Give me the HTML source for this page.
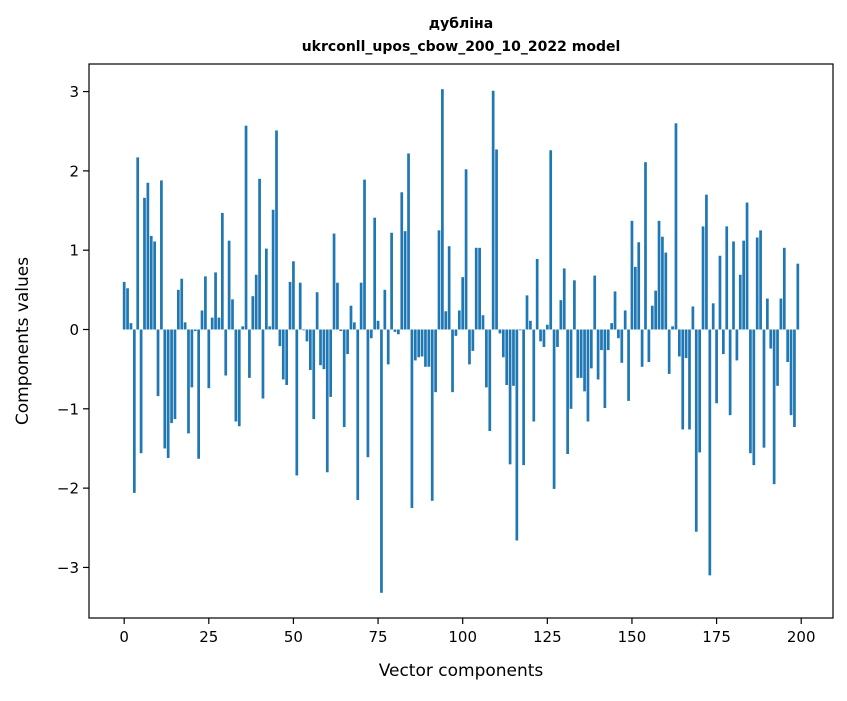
<!DOCTYPE html>
<html><head><meta charset="utf-8"><style>
body{margin:0;background:#fff;}
svg text{font-family:"DejaVu Sans","Liberation Sans",sans-serif;fill:#000;}
</style></head><body>
<svg id="chart" width="847" height="696" xmlns="http://www.w3.org/2000/svg">
<rect width="847" height="696" fill="#fff"/>
<text x="461" y="28" text-anchor="middle" font-size="14" font-weight="bold">дубліна</text>
<text x="461" y="51" text-anchor="middle" font-size="14" font-weight="bold">ukrconll_upos_cbow_200_10_2022 model</text>
<g id="bars"></g>
<g id="xticks"></g>
<g id="yticks"></g>
<rect x="89" y="64" width="744" height="554" fill="none" stroke="#000" stroke-width="1.2"/>
<text x="461" y="676" text-anchor="middle" font-size="17">Vector components</text>
<text x="28" y="341" text-anchor="middle" font-size="17" transform="rotate(-90 28 341)">Components values</text>
</svg>
<script>
const values = [0.60,0.52,0.08,-2.06,2.17,-1.56,1.66,1.85,1.18,1.11,-0.84,1.88,-1.50,-1.62,-1.18,-1.13,0.50,0.64,0.09,-1.31,
-0.73,-0.02,-1.63,0.24,0.67,-0.74,0.15,0.72,0.15,1.47,-0.58,1.12,0.38,-1.16,-1.22,0.04,2.57,-0.61,0.42,0.69,
1.90,-0.87,1.02,0.04,1.51,2.51,-0.21,-0.63,-0.70,0.60,0.86,-1.84,0.59,-0.01,-0.15,-0.51,-1.13,0.47,-0.45,-0.50,
-1.80,-0.85,1.21,0.59,-0.02,-1.23,-0.31,0.30,0.09,-2.15,0.59,1.89,-1.61,-0.11,1.41,0.11,-3.32,0.50,-0.44,1.22,
-0.03,-0.06,1.73,1.24,2.22,-2.25,-0.39,-0.35,-0.34,-0.47,-0.47,-2.16,-0.79,1.25,3.03,0.23,1.05,-0.79,-0.08,0.24,
0.66,2.02,-0.44,-0.27,1.03,1.03,0.18,-0.73,-1.28,3.01,2.27,-0.05,-0.35,-0.70,-1.70,-0.71,-2.66,-0.01,-1.71,0.43,
0.11,-1.16,0.89,-0.15,-0.22,0.06,2.26,-2.01,-0.22,0.37,0.77,-1.57,-1.00,0.62,-0.61,-0.61,-0.78,-1.16,-0.49,0.68,
-0.63,-0.26,-0.99,-0.26,0.08,0.48,-0.11,-0.42,0.24,-0.90,1.37,0.79,1.10,-0.47,2.11,-0.41,0.30,0.49,1.37,1.17,
0.97,-0.56,0.04,2.60,-0.34,-1.26,-0.36,-1.26,0.29,-2.55,-1.55,1.30,1.70,-3.10,0.33,-0.93,0.93,-0.31,1.30,-1.08,
1.11,-0.39,0.69,1.12,1.60,-1.56,-1.71,1.16,1.25,-1.49,0.39,-0.24,-1.95,-0.71,0.39,1.03,-0.41,-1.08,-1.23,0.83];
const xTickLabels = [0,25,50,75,100,125,150,175,200];
const yTickLabels = [-3,-2,-1,0,1,2,3];

const NS="http://www.w3.org/2000/svg";
const L=89,R=833,T=64,B=618;
const xmin0=-0.4,xmax0=values.length-1+0.4,xpad=(xmax0-xmin0)*0.05;
const xmin=xmin0-xpad,xmax=xmax0+xpad;
const dmin=Math.min(0,...values),dmax=Math.max(0,...values),ypad=(dmax-dmin)*0.05;
const ymin=dmin-ypad,ymax=dmax+ypad;
const sx=v=>L+(v-xmin)/(xmax-xmin)*(R-L);
const sy=v=>B-(v-ymin)/(ymax-ymin)*(B-T);

const bars=document.getElementById('bars');
values.forEach((v,i)=>{
  const r=document.createElementNS(NS,'rect');
  const x0=sx(i-0.4),x1=sx(i+0.4);
  const y0=sy(Math.max(v,0)),y1=sy(Math.min(v,0));
  r.setAttribute('x',x0);r.setAttribute('width',x1-x0);
  r.setAttribute('y',y0);r.setAttribute('height',Math.max(y1-y0,0.3));
  r.setAttribute('fill','#1f77b4');
  
  
  bars.appendChild(r);
});
const xg=document.getElementById('xticks');
xTickLabels.forEach(t=>{
  const x=sx(t);
  const ln=document.createElementNS(NS,'line');
  ln.setAttribute('x1',x);ln.setAttribute('x2',x);ln.setAttribute('y1',B);ln.setAttribute('y2',B+6);
  ln.setAttribute('stroke','#000');ln.setAttribute('stroke-width','1.2');
  
  
  xg.appendChild(ln);
  const tx=document.createElementNS(NS,'text');
  tx.setAttribute('x',x);tx.setAttribute('y',B+24);tx.setAttribute('text-anchor','middle');tx.setAttribute('font-size','15');
  tx.textContent=t;
  
  
  xg.appendChild(tx);
});
const yg=document.getElementById('yticks');
yTickLabels.forEach(t=>{
  const y=sy(t);
  const ln=document.createElementNS(NS,'line');
  ln.setAttribute('x1',L-6);ln.setAttribute('x2',L);ln.setAttribute('y1',y);ln.setAttribute('y2',y);
  ln.setAttribute('stroke','#000');ln.setAttribute('stroke-width','1.2');
  
  
  yg.appendChild(ln);
  const tx=document.createElementNS(NS,'text');
  tx.setAttribute('x',L-10);tx.setAttribute('y',y+5.5);tx.setAttribute('text-anchor','end');tx.setAttribute('font-size','15');
  tx.textContent=t<0?'\u2212'+Math.abs(t):String(t);
  
  
  yg.appendChild(tx);
});
</script>
</body></html>
